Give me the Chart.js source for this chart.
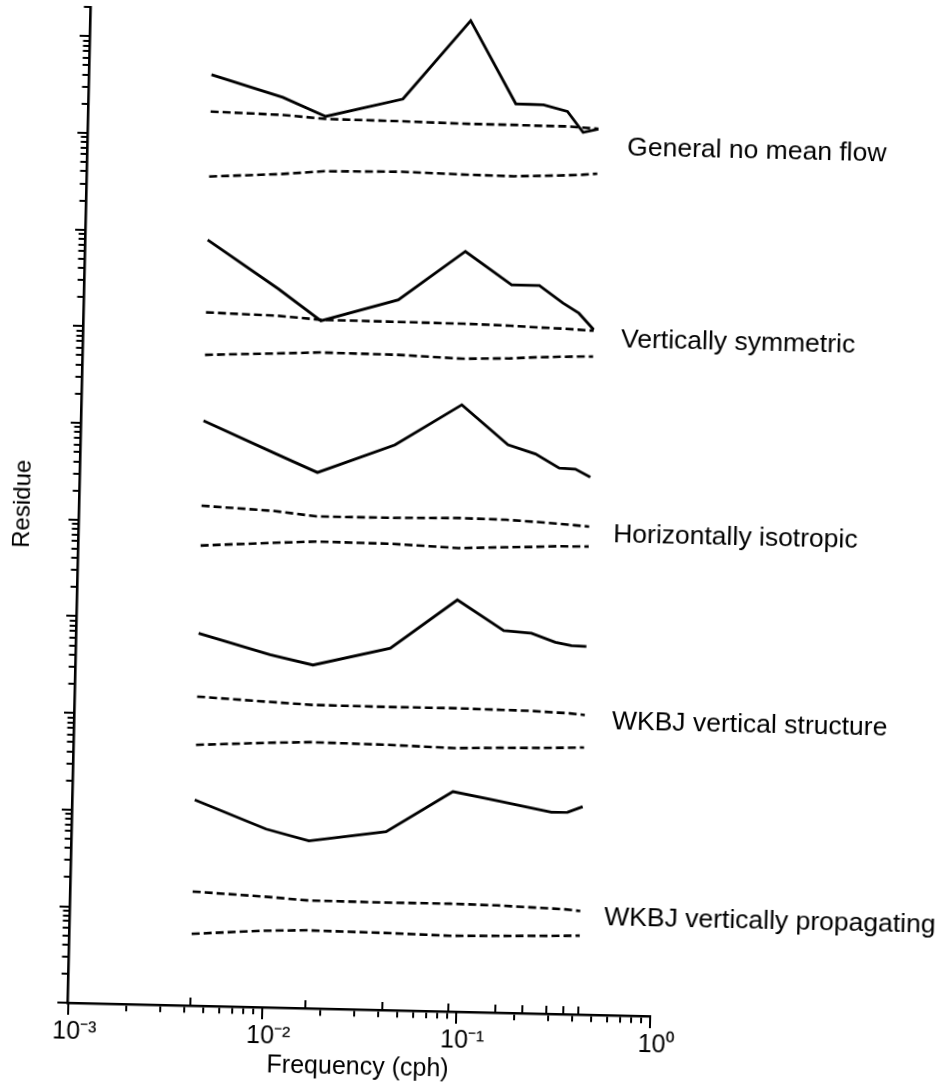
<!DOCTYPE html>
<html><head><meta charset="utf-8">
<script src="https://cdn.jsdelivr.net/npm/chart.js@4/dist/chart.umd.min.js"></script>
<style>
html,body{margin:0;padding:0;background:#fff;overflow:hidden;}
#wrap{width:949px;height:1090px;position:relative;overflow:hidden;background:#fff;}
#c{position:absolute;left:0;top:0;width:949px;height:1090px;transform:rotate(1.32deg);transform-origin:474.5px 545px;background:#fff;}
</style></head><body>
<div id="wrap"><canvas id="c" width="949" height="1090"></canvas></div>
<script>
// Frequencies (cph) at which the curves are drawn
const freq = [0.00426, 0.0100, 0.0167, 0.0416, 0.091, 0.159, 0.221, 0.294, 0.356, 0.426];
// Frequencies marked by the upward ticks on the frequency axis
const markedFreq = [0.00426, 0.0167, 0.0416, 0.091, 0.159, 0.221, 0.294, 0.356, 0.426];

// Residue curves (arbitrary, panels offset on a log scale)
const generalFit   = [4.28e9, 2.60e9, 1.69e9, 2.67e9, 1.79e10, 2.53e9, 2.51e9, 2.17e9, 1.33e9, 1.45e9];
const generalUpper = [1.78e9, 1.71e9, 1.59e9, 1.57e9, 1.53e9, 1.53e9, 1.52e9, 1.52e9, 1.49e9, 1.46e9];
const generalLower = [3.79e8, 4.18e8, 4.58e8, 4.72e8, 4.56e8, 4.51e8, 4.63e8, 4.74e8, 4.85e8, 5.01e8];

const symmetricFit   = [8.38e7, 2.71e7, 1.30e7, 2.23e7, 7.33e7, 3.39e7, 3.39e7, 2.26e7, 1.79e7, 1.22e7];
const symmetricUpper = [1.49e7, 1.43e7, 1.33e7, 1.32e7, 1.31e7, 1.28e7, 1.25e7, 1.23e7, 1.21e7, 1.19e7];
const symmetricLower = [5.42e6, 5.83e6, 6.11e6, 6.03e6, 5.69e6, 5.89e6, 6.14e6, 6.30e6, 6.38e6, 6.44e6];

const isotropicFit   = [1.13e6, 5.41e5, 3.50e5, 7.05e5, 1.90e6, 7.52e5, 6.14e5, 4.44e5, 4.37e5, 3.64e5];
const isotropicUpper = [1.49e5, 1.37e5, 1.23e5, 1.24e5, 1.28e5, 1.26e5, 1.22e5, 1.18e5, 1.15e5, 1.12e5];
const isotropicLower = [5.77e4, 6.40e4, 6.76e4, 6.67e4, 6.25e4, 6.55e4, 6.70e4, 6.90e4, 6.92e4, 6.98e4];

const wkbjStructFit   = [7.14e3, 4.45e3, 3.57e3, 5.56e3, 1.82e4, 8.99e3, 8.57e3, 7.01e3, 6.53e3, 6.44e3];
const wkbjStructUpper = [1.58e3, 1.45e3, 1.38e3, 1.37e3, 1.38e3, 1.36e3, 1.35e3, 1.32e3, 1.30e3, 1.26e3];
const wkbjStructLower = [500, 547, 568, 556, 533, 551, 558, 566, 574, 581];

const wkbjPropFit   = [135, 70.1, 54.1, 70.3, 189, 154, 136, 122, 123, 142];
const wkbjPropUpper = [15.2, 14.0, 13.1, 13.0, 13.1, 12.9, 12.6, 12.4, 12.2, 11.8];
const wkbjPropLower = [5.55, 6.22, 6.43, 6.30, 6.10, 6.24, 6.34, 6.43, 6.49, 6.58];

// Panel labels and where they sit (frequency, residue)
const panelNames   = ['General no mean flow', 'Vertically symmetric', 'Horizontally isotropic', 'WKBJ vertical structure', 'WKBJ vertically propagating'];
const labelFreq    = [0.604, 0.591, 0.568, 0.589, 0.567];
const labelResidue = [9.44e8, 9.7e6, 9.3e4, 1.08e3, 10.1];

// Axis ticks
const xDecades = [0.001, 0.01, 0.1, 1];
const xDecadeLabels = ['10\u207B\u00B3', '10\u207B\u00B2', '10\u207B\u00B9', '10\u2070'];
const multipliers = [1, 2, 3, 4, 5, 6, 7, 8, 9];
const yDecades = [1, 1e1, 1e2, 1e3, 1e4, 1e5, 1e6, 1e7, 1e8, 1e9, 1e10];
const yMin = 1, yMax = 2e10;

const xTickValues = xDecades.slice(0, 3).flatMap(d => multipliers.map(m => +(m * d).toPrecision(3))).concat([1]);
const yTickValues = yDecades.flatMap(d => multipliers.map(m => +(m * d).toPrecision(3))).filter(v => v <= yMax);

const series = [
  [generalFit, false], [generalUpper, true], [generalLower, true],
  [symmetricFit, false], [symmetricUpper, true], [symmetricLower, true],
  [isotropicFit, false], [isotropicUpper, true], [isotropicLower, true],
  [wkbjStructFit, false], [wkbjStructUpper, true], [wkbjStructLower, true],
  [wkbjPropFit, false], [wkbjPropUpper, true], [wkbjPropLower, true]
];

const datasets = series.map(([vals, dashed]) => ({
  data: freq.map((f, i) => ({x: f, y: vals[i]})),
  borderColor: '#000',
  borderWidth: dashed ? 2.6 : 2.8,
  borderDash: dashed ? [8, 4] : [],
  pointRadius: 0,
  tension: 0,
  fill: false
}));

const labelPlugin = {
  id: 'panelLabels',
  afterDatasetsDraw(chart) {
    const {ctx, scales: {x, y}} = chart;
    ctx.save();
    ctx.fillStyle = '#000';
    ctx.font = '26.5px "Liberation Sans", Arial, sans-serif';
    ctx.textAlign = 'left';
    ctx.textBaseline = 'middle';
    panelNames.forEach((t, i) => ctx.fillText(t, x.getPixelForValue(labelFreq[i]), y.getPixelForValue(labelResidue[i])));
    ctx.restore();
  }
};

Chart.defaults.font.family = '"Liberation Sans", Arial, sans-serif';
Chart.defaults.color = '#000';

new Chart(document.getElementById('c'), {
  type: 'line',
  data: {datasets},
  plugins: [labelPlugin],
  options: {
    responsive: false,
    animation: false,
    devicePixelRatio: 1,
    layout: {padding: {left: 0, top: 16.2, right: 288.4, bottom: 0}},
    plugins: {legend: {display: false}, tooltip: {enabled: false}},
    scales: {
      x: {
        type: 'logarithmic', position: 'bottom', min: 0.001, max: 1,
        afterBuildTicks: s => { s.ticks = xTickValues.map(v => ({value: v})); },
        afterFit: s => { s.height = 77.8; },
        ticks: {
          autoSkip: false, maxRotation: 0, minRotation: 0, padding: 7, labelOffset: 7,
          color: '#000', font: {size: 25},
          callback: v => { const i = xDecades.findIndex(d => Math.abs(d - v) / d < 1e-6); return i >= 0 ? xDecadeLabels[i] : ''; }
        },
        grid: {display: true, drawOnChartArea: false, drawTicks: true, tickLength: 7, color: '#000', lineWidth: 2},
        border: {display: true, color: '#000', width: 2.6},
        title: {display: true, text: 'Frequency (cph)', color: '#000', font: {size: 25}, padding: {top: 2, bottom: 4.8}}
      },
      xMajor: {
        type: 'logarithmic', axis: 'x', position: {y: yMin}, min: 0.001, max: 1,
        afterBuildTicks: s => { s.ticks = xDecades.map(v => ({value: v})); },
        ticks: {display: false},
        grid: {display: true, drawOnChartArea: false, drawTicks: true, tickLength: 12, color: '#000', lineWidth: 2},
        border: {display: false}
      },
      xFreq: {
        type: 'logarithmic', axis: 'x', position: {y: yMin}, min: 0.001, max: 1,
        afterBuildTicks: s => { s.ticks = markedFreq.map(v => ({value: v})); },
        ticks: {display: false},
        grid: {display: true, drawOnChartArea: false, drawTicks: true, tickLength: -8, color: '#000', lineWidth: 2},
        border: {display: false}
      },
      y: {
        type: 'logarithmic', position: 'left', min: yMin, max: yMax,
        afterBuildTicks: s => { s.ticks = yTickValues.map(v => ({value: v})); },
        afterFit: s => { s.width = 78.6; },
        ticks: {display: false, autoSkip: false},
        grid: {display: true, drawOnChartArea: false, drawTicks: true, tickLength: 7, color: '#000', lineWidth: 2},
        border: {display: true, color: '#000', width: 2.6},
        title: {display: true, text: 'Residue', color: '#000', font: {size: 24}, padding: {top: 7.6, bottom: 4}}
      },
      yMajor: {
        type: 'logarithmic', axis: 'y', position: {x: 0.001}, min: yMin, max: yMax,
        afterBuildTicks: s => { s.ticks = yDecades.map(v => ({value: v})); },
        ticks: {display: false},
        grid: {display: true, drawOnChartArea: false, drawTicks: true, tickLength: 11, color: '#000', lineWidth: 2},
        border: {display: false}
      }
    }
  }
});
</script></body></html>
